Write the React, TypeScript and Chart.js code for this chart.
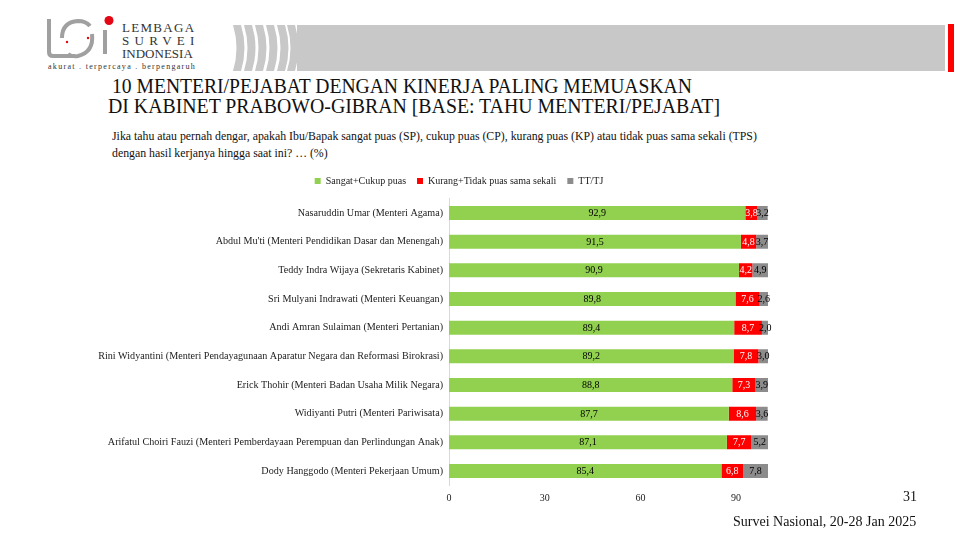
import React, { useEffect, useRef } from "react";
import { Chart, registerables } from "chart.js";

Chart.register(...registerables);

const categories = [
  "Nasaruddin Umar (Menteri Agama)",
  "Abdul Mu'ti (Menteri Pendidikan Dasar dan Menengah)",
  "Teddy Indra Wijaya (Sekretaris Kabinet)",
  "Sri Mulyani Indrawati (Menteri Keuangan)",
  "Andi Amran Sulaiman (Menteri Pertanian)",
  "Rini Widyantini (Menteri Pendayagunaan Aparatur Negara dan Reformasi Birokrasi)",
  "Erick Thohir (Menteri Badan Usaha Milik Negara)",
  "Widiyanti Putri (Menteri Pariwisata)",
  "Arifatul Choiri Fauzi (Menteri Pemberdayaan Perempuan dan Perlindungan Anak)",
  "Dody Hanggodo (Menteri Pekerjaan Umum)",
];
const puas = [92.9, 91.5, 90.9, 89.8, 89.4, 89.2, 88.8, 87.7, 87.1, 85.4];
const tidakPuas = [3.8, 4.8, 4.2, 7.6, 8.7, 7.8, 7.3, 8.6, 7.7, 6.8];
const ttTj = [3.2, 3.7, 4.9, 2.6, 2.0, 3.0, 3.9, 3.6, 5.2, 7.8];
const seriesNames = ["Sangat+Cukup puas", "Kurang+Tidak puas sama sekali", "TT/TJ"];
const xTicks = [0, 30, 60, 90];

const SERIF = "'Liberation Serif', 'Times New Roman', serif";

const valueLabels = {
  id: "valueLabels",
  afterDatasetsDraw(chart: any) {
    const ctx = chart.ctx;
    ctx.save();
    ctx.font = `10px ${SERIF}`;
    ctx.textAlign = "center";
    ctx.textBaseline = "middle";
    const colors = ["#000000", "#ffffff", "#000000"];
    chart.data.datasets.forEach((ds: any, di: number) => {
      const meta = chart.getDatasetMeta(di);
      meta.data.forEach((bar: any, i: number) => {
        const v = ds.data[i];
        const cx = (bar.x + bar.base) / 2;
        ctx.fillStyle = colors[di];
        ctx.fillText(v.toFixed(1).replace(".", ","), cx, bar.y + 0.5);
      });
    });
    ctx.restore();
  },
};

// centre the legend over the span 150..chartArea.right, as in the slide
const legendShift = {
  id: "legendShift",
  beforeDraw(chart: any) {
    if (chart.legend) {
      chart.legend.left = 150;
      chart.legend.right = chart.chartArea.right;
    }
  },
};

function ChartCanvas() {
  const ref = useRef<HTMLCanvasElement>(null);
  useEffect(() => {
    if (!ref.current) return;
    const chart = new Chart(ref.current, {
      type: "bar",
      data: {
        labels: categories,
        datasets: [
          { label: seriesNames[0], data: puas, backgroundColor: "#92D050" },
          { label: seriesNames[1], data: tidakPuas, backgroundColor: "#FF0000" },
          { label: seriesNames[2], data: ttTj, backgroundColor: "#8C8C8C" },
        ],
      },
      plugins: [valueLabels, legendShift],
      options: {
        indexAxis: "y",
        animation: false,
        responsive: false,
        maintainAspectRatio: false,
        layout: { padding: { top: 0, right: 150, bottom: 0, left: 0 } },
        datasets: {
          bar: { categoryPercentage: 1, barPercentage: 0.49, borderWidth: 0 },
        },
        plugins: {
          legend: {
            position: "top",
            labels: {
              boxWidth: 6,
              boxHeight: 6,
              padding: 11,
              color: "#222",
              font: { family: SERIF, size: 10 },
            },
          },
          title: {
            display: true,
            text: " ",
            weight: 500,
            padding: 0,
            font: { size: 2.7, lineHeight: 1 },
          },
          tooltip: { enabled: false },
        },
        scales: {
          x: {
            stacked: true,
            min: 0,
            max: 100,
            grid: { display: false, drawTicks: false },
            border: { display: false },
            afterBuildTicks: (scale: any) => {
              scale.ticks = xTicks.map((v) => ({ value: v }));
            },
            afterFit: (scale: any) => {
              scale.height = 24.7;
            },
            ticks: {
              padding: 7,
              color: "#222",
              font: { family: SERIF, size: 10 },
            },
          },
          y: {
            stacked: true,
            grid: { display: false, drawTicks: false },
            border: { display: true, color: "#D9D9D9", width: 1 },
            afterFit: (scale: any) => {
              scale.width = 449;
            },
            ticks: {
              padding: 6,
              color: "#222",
              font: { family: SERIF, size: 10.15 },
              autoSkip: false,
            },
          },
        },
      },
    });
    return () => chart.destroy();
  }, []);
  return (
    <canvas
      ref={ref}
      width={918}
      height={345}
      style={{ position: "absolute", left: 0, top: 165, width: 918, height: 345 }}
    />
  );
}

function Logo() {
  return (
    <div style={{ position: "absolute", left: 40, top: 12, width: 170, height: 64 }}>
      <svg width="80" height="50" style={{ position: "absolute", left: 0, top: 0 }}>
        <path d="M9 7 L9 40 Q9 44 13 44 L35 44" stroke="#a0a0a0" strokeWidth="4" fill="none" />
        <path d="M22 26 Q22 10 38 9 Q46 9 50 14" stroke="#a0a0a0" strokeWidth="4" fill="none" />
        <path d="M52 22 Q54 40 38 44 Q32 45 28 42" stroke="#a0a0a0" strokeWidth="4" fill="none" />
        <line x1="65" y1="18" x2="65" y2="42" stroke="#a0a0a0" strokeWidth="4" />
        <circle cx="69" cy="8.5" r="4.5" fill="#E30613" />
        <circle cx="27" cy="30" r="1.2" fill="#E30613" />
        <circle cx="48" cy="26" r="1.2" fill="#E30613" />
      </svg>
      <div style={{ position: "absolute", left: 82, top: 10, fontFamily: SERIF, fontSize: 13, lineHeight: "12.8px", color: "#333" }}>
        <div style={{ letterSpacing: 1.3 }}>LEMBAGA</div>
        <div style={{ letterSpacing: 5.3 }}>SURVEI</div>
        <div style={{ letterSpacing: 0 }}>INDONESIA</div>
      </div>
      <div style={{ position: "absolute", left: 8, top: 50, fontFamily: SERIF, fontSize: 8, letterSpacing: 1.3, color: "#333", whiteSpace: "nowrap" }}>
        akurat . terpercaya . berpengaruh
      </div>
    </div>
  );
}

function Banner() {
  const stripeX = [233, 244, 255, 266, 277, 287];
  return (
    <>
      <svg width="70" height="46" style={{ position: "absolute", left: 230, top: 25 }}>
        {stripeX.map((x, i) => {
          const a = x - 230;
          const w = 8;
          return (
            <path
              key={i}
              d={`M${a} 0 Q${a + 7} 23 ${a} 46 L${a + w} 46 Q${a + w + 7} 23 ${a + w} 0 Z`}
              fill="#C8C8C8"
            />
          );
        })}
      </svg>
      <div style={{ position: "absolute", left: 297, top: 25, width: 648, height: 46, background: "#C8C8C8" }} />
      <div style={{ position: "absolute", left: 948, top: 24, width: 6, height: 48, background: "#FF0000" }} />
    </>
  );
}

export default function App() {
  return (
    <div style={{ position: "fixed", left: 0, top: 0, width: 960, height: 540, background: "#fff", overflow: "hidden" }}>
      <Banner />
      <Logo />
      <div style={{ position: "absolute", left: 112, top: 76, fontFamily: SERIF, fontSize: 20, lineHeight: "20px", color: "#111", whiteSpace: "nowrap" }}>
        <div style={{ transform: "scaleX(0.98)", transformOrigin: "left" }}>10 MENTERI/PEJABAT DENGAN KINERJA PALING MEMUASKAN</div>
        <div style={{ transform: "scaleX(0.99)", transformOrigin: "left", marginLeft: -4 }}>DI KABINET PRABOWO-GIBRAN [BASE: TAHU MENTERI/PEJABAT]</div>
      </div>
      <div style={{ position: "absolute", left: 112, top: 128, fontFamily: SERIF, fontSize: 12, lineHeight: "17px", color: "#111", whiteSpace: "nowrap" }}>
        <div style={{ transform: "scaleX(0.985)", transformOrigin: "left" }}>Jika tahu atau pernah dengar, apakah Ibu/Bapak sangat puas (SP), cukup puas (CP), kurang puas (KP) atau tidak puas sama sekali (TPS)</div>
        <div style={{ transform: "scaleX(0.985)", transformOrigin: "left" }}>dengan hasil kerjanya hingga saat ini? … (%)</div>
      </div>
      <ChartCanvas />
      <div style={{ position: "absolute", left: 903, top: 489, fontFamily: SERIF, fontSize: 14, color: "#111" }}>31</div>
      <div style={{ position: "absolute", left: 733, top: 514, fontFamily: SERIF, fontSize: 14, color: "#111", whiteSpace: "nowrap" }}>
        Survei Nasional, 20-28 Jan 2025
      </div>
    </div>
  );
}
